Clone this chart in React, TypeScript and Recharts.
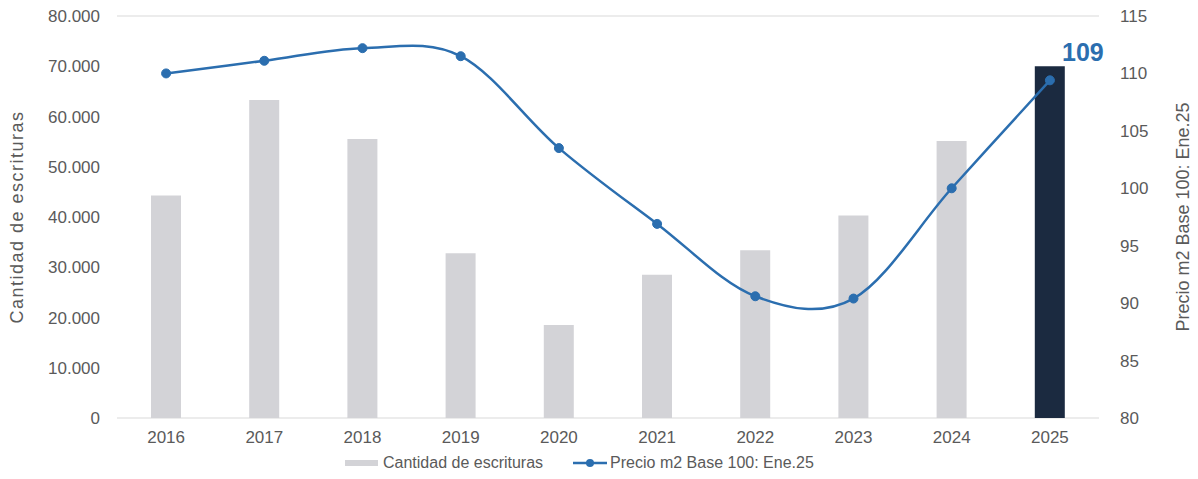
import React from 'react';
import {
  ComposedChart, Bar, Line, XAxis, YAxis, CartesianGrid, Legend, Cell, LabelList,
} from 'recharts';

const years = ['2016', '2017', '2018', '2019', '2020', '2021', '2022', '2023', '2024', '2025'];
const escrituras = [44300, 63300, 55500, 32800, 18500, 28500, 33400, 40300, 55100, 70000];
const precio = [110.0, 111.1, 112.2, 111.5, 103.5, 96.9, 90.6, 90.4, 100.0, 109.4];
const leftTicks = [0, 10000, 20000, 30000, 40000, 50000, 60000, 70000, 80000];
const rightTicks = [80, 85, 90, 95, 100, 105, 110, 115];

const barName = 'Cantidad de escrituras';
const lineName = 'Precio m2 Base 100: Ene.25';

const data = years.map((y, i) => ({ year: y, escrituras: escrituras[i], precio: precio[i] }));

const BAR_GRAY = '#d3d3d7';
const BAR_DARK = '#1b2a40';
const LINE_BLUE = '#2b6eaf';
const TEXT_GRAY = '#5a5a5a';
const FONT = 'Liberation Sans, Arial, sans-serif';

const fmtThousands = (v: number) => String(v).replace(/\B(?=(\d{3})+(?!\d))/g, '.');

// Excel-like smooth line (uniform Catmull-Rom)
const smoothCurve = (context: any) => {
  let pts: number[][] = [];
  return {
    areaStart() {},
    areaEnd() {},
    lineStart() { pts = []; },
    point(x: number, y: number) { pts.push([+x, +y]); },
    lineEnd() {
      if (!pts.length) return;
      context.moveTo(pts[0][0], pts[0][1]);
      for (let i = 0; i < pts.length - 1; i++) {
        const p0 = pts[i - 1] || pts[i];
        const p1 = pts[i];
        const p2 = pts[i + 1];
        const p3 = pts[i + 2] || pts[i + 1];
        const c1x = p1[0] + (p2[0] - p0[0]) / 6;
        const c1y = p1[1] + (p2[1] - p0[1]) / 6;
        const c2x = p2[0] - (p3[0] - p1[0]) / 6;
        const c2y = p2[1] - (p3[1] - p1[1]) / 6;
        context.bezierCurveTo(c1x, c1y, c2x, c2y, p2[0], p2[1]);
      }
    },
  };
};

const LegendContent = () => (
  <div style={{ display: 'flex', alignItems: 'center', paddingLeft: 345, height: 30, fontFamily: FONT, fontSize: 16, color: TEXT_GRAY }}>
    <span style={{ display: 'inline-block', width: 33, height: 6, background: BAR_GRAY, marginRight: 5 }} />
    <span>{barName}</span>
    <svg width={34} height={12} style={{ marginLeft: 30, marginRight: 3 }}>
      <line x1={0} y1={6} x2={34} y2={6} stroke={LINE_BLUE} strokeWidth={2.5} />
      <circle cx={17} cy={6} r={4} fill={LINE_BLUE} />
    </svg>
    <span>{lineName}</span>
  </div>
);

const LastLabel = (props: any) => {
  const { x, y, index, value } = props;
  if (index !== years.length - 1) return null;
  return (
    <text x={x + 33} y={y - 19} textAnchor="middle" fontFamily={FONT} fontWeight="bold" fontSize={25} fill={LINE_BLUE}>
      {Math.round(value)}
    </text>
  );
};

export default function App() {
  return (
    <div style={{ position: 'absolute', left: 0, top: 0, background: '#fff' }}>
      <ComposedChart width={1198} height={479} data={data} margin={{ top: 16, right: 0, bottom: 1, left: 0 }}>
        <CartesianGrid vertical={false} stroke="#d9d9d9" strokeWidth={1} />
        <XAxis
          dataKey="year"
          axisLine={false}
          tickLine={false}
          tickMargin={7}
          height={30}
          tick={{ fill: TEXT_GRAY, fontSize: 17, fontFamily: FONT }}
        />
        <YAxis
          yAxisId="left"
          orientation="left"
          width={117}
          domain={[0, 80000]}
          ticks={leftTicks}
          axisLine={false}
          tickLine={false}
          tickMargin={11}
          tickFormatter={fmtThousands}
          tick={{ fill: TEXT_GRAY, fontSize: 17, fontFamily: FONT }}
          label={(p: any) => {
            const vb = p.viewBox;
            const cx = vb.x + 17;
            const cy = vb.y + vb.height / 2;
            return (
              <text x={cx} y={cy} transform={`rotate(-90, ${cx}, ${cy})`} textAnchor="middle" dominantBaseline="central"
                fontFamily={FONT} fontSize={18} letterSpacing={1.5} fill={TEXT_GRAY}>
                {barName}
              </text>
            );
          }}
        />
        <YAxis
          yAxisId="right"
          orientation="right"
          width={99}
          domain={[80, 115]}
          ticks={rightTicks}
          axisLine={false}
          tickLine={false}
          tickMargin={15}
          tick={{ fill: TEXT_GRAY, fontSize: 17, fontFamily: FONT }}
          label={(p: any) => {
            const vb = p.viewBox;
            const cx = vb.x + 84;
            const cy = vb.y + vb.height / 2;
            return (
              <text x={cx} y={cy} transform={`rotate(-90, ${cx}, ${cy})`} textAnchor="middle" dominantBaseline="central"
                fontFamily={FONT} fontSize={18} fill={TEXT_GRAY}>
                {lineName}
              </text>
            );
          }}
        />
        <Legend verticalAlign="bottom" content={<LegendContent />} wrapperStyle={{ left: 0, width: 1198, height: 30 }} />
        <Bar yAxisId="left" dataKey="escrituras" name={barName} barSize={30} fill={BAR_GRAY} isAnimationActive={false}>
          {data.map((d, i) => (
            <Cell key={d.year} fill={i === years.length - 1 ? BAR_DARK : BAR_GRAY} />
          ))}
        </Bar>
        <Line
          yAxisId="right"
          dataKey="precio"
          name={lineName}
          type={smoothCurve as any}
          stroke={LINE_BLUE}
          strokeWidth={2.5}
          dot={{ r: 4.5, fill: LINE_BLUE, stroke: LINE_BLUE, strokeWidth: 1 }}
          activeDot={false}
          isAnimationActive={false}
        >
          <LabelList dataKey="precio" content={<LastLabel />} />
        </Line>
      </ComposedChart>
    </div>
  );
}
